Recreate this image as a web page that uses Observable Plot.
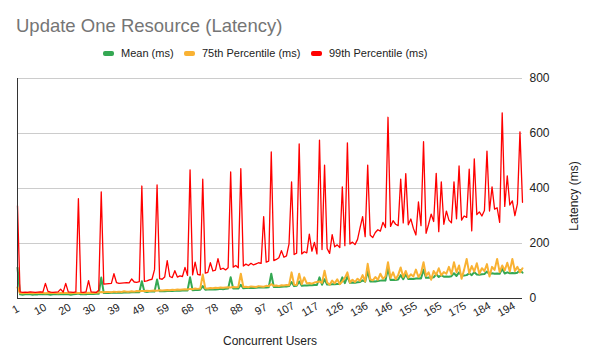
<!DOCTYPE html>
<html><head><meta charset="utf-8">
<script src="https://cdn.jsdelivr.net/npm/d3@7"></script>
<script src="https://cdn.jsdelivr.net/npm/@observablehq/plot@0.6"></script>
<style>
body{margin:0;background:#fff;font-family:Arial,"Liberation Sans",sans-serif;}
#wrap{position:relative;width:592px;height:364px;overflow:hidden;}
#chart{position:absolute;left:0;top:0;}
#title{position:absolute;left:16px;top:15px;font-size:18.5px;color:#757575;white-space:nowrap;}
.lg{position:absolute;top:46px;font-size:11px;color:#222;white-space:nowrap;line-height:14px;}
.sw{position:absolute;top:51px;width:11px;height:5px;border-radius:2px;}
#ylab{position:absolute;left:574px;top:196px;transform:translate(-50%,-50%) rotate(-90deg);font-size:12px;color:#222;white-space:nowrap;}
#xlab{position:absolute;left:270px;top:334px;transform:translateX(-50%);font-size:12px;color:#222;white-space:nowrap;}
</style></head>
<body><div id="wrap">
<div id="chart"></div>
<div id="title">Update One Resource (Latency)</div>
<div class="sw" style="left:103px;background:#34a853"></div><div class="lg" style="left:121px">Mean (ms)</div>
<div class="sw" style="left:184px;background:#f9b233"></div><div class="lg" style="left:202px">75th Percentile (ms)</div>
<div class="sw" style="left:311px;background:#ff0000"></div><div class="lg" style="left:329px">99th Percentile (ms)</div>
<div id="ylab">Latency (ms)</div>
<div id="xlab">Concurrent Users</div>
</div>
<script>
const tickLabels = ["1","10","20","30","39","49","59","68","78","88","97","107","117","126","136","146","155","165","175","184","194"];
const yTicks = [0, 200, 400, 600, 800];

// one value per concurrent-user level (1..200)
const meanMs = [
112,15,14,15,16,15,14,15,15,16,
15,16,15,14,15,16,15,16,15,16,
15,14,15,16,18,15,16,15,17,16,
16,17,17,76,20,21,20,21,22,21,
22,21,22,23,22,23,23,24,23,63,
25,24,25,26,25,69,26,27,26,27,
28,27,28,29,28,29,30,29,77,30,
31,31,32,45,32,33,33,34,33,34,
35,34,35,36,77,36,37,36,50,37,
38,38,39,38,39,40,40,41,40,41,
90,42,43,42,43,44,44,45,60,45,
46,62,46,47,47,48,48,49,49,77,
50,70,51,51,52,52,53,53,77,56,
80,57,58,57,59,60,66,61,100,62,
63,62,64,65,66,65,110,67,68,67,
69,85,70,88,71,72,71,73,74,73,
105,75,76,75,77,88,78,85,79,80,
79,81,92,82,95,83,84,85,92,85,
96,87,86,88,89,98,88,92,90,91,
90,108,91,95,92,93,92,94,104,94];

const p75Ms = [
40,20,19,20,21,20,19,20,20,21,
20,19,20,21,20,20,19,20,21,20,
20,19,20,21,20,20,19,20,21,20,
20,21,22,24,23,24,24,23,25,24,
25,24,26,25,25,26,25,27,26,27,
27,28,27,28,29,28,30,29,30,31,
30,32,31,33,32,33,34,33,35,34,
36,35,36,87,37,36,38,37,39,38,
40,39,40,41,40,42,41,42,90,42,
43,41,44,43,42,45,44,43,46,45,
52,46,47,45,48,47,49,48,95,50,
49,90,52,77,55,56,54,58,60,62,
57,101,58,50,65,55,70,52,62,75,
95,58,68,60,72,64,85,62,126,70,
66,78,68,90,72,80,132,75,95,70,
85,113,78,100,76,88,80,105,78,92,
132,82,95,68,100,86,110,84,96,90,
115,88,132,95,120,72,105,144,92,118,
98,128,90,110,100,125,80,115,104,144,
96,120,102,130,98,144,100,115,95,110];

const p99Ms = [
337,24,22,23,22,24,23,22,23,24,
23,55,26,23,22,23,24,34,23,55,
24,23,22,24,363,23,22,24,65,24,
23,22,30,388,52,53,54,55,90,58,
55,56,57,58,57,71,60,59,61,409,
62,64,68,70,105,413,72,70,78,138,
80,76,101,78,82,80,113,84,468,86,
132,88,85,434,92,95,130,100,103,145,
106,110,104,112,460,114,120,112,472,118,
125,120,128,122,126,130,128,298,132,136,
533,138,142,148,174,150,155,199,424,160,
165,562,162,170,166,234,172,204,162,576,
178,485,182,164,232,188,195,185,406,192,
566,198,205,196,215,258,298,225,485,230,
222,240,250,245,277,258,659,262,283,270,
265,434,275,454,268,289,255,231,351,265,
570,237,270,307,280,455,243,424,270,318,
285,275,424,290,482,285,300,295,470,246,
508,305,315,300,320,536,318,406,325,330,
277,675,335,446,340,355,301,345,606,350];

const users = d3.range(1, 201);
const rows = users.map((u, i) => ({u, mean: meanMs[i], p75: p75Ms[i], p99: p99Ms[i]}));
// each label sits every 29 measurement rows (3 rows per user level)
const tickPos = tickLabels.map((_, i) => 1 + (i * 29) / 3);

const chart = Plot.plot({
  width: 592, height: 364,
  marginTop: 78, marginBottom: 66, marginLeft: 17, marginRight: 70,
  x: {domain: [1, 200], axis: null},
  y: {domain: [0, 800], axis: null},
  style: {fontFamily: "Arial, 'Liberation Sans', sans-serif", background: "transparent", color: "#222"},
  marks: [
    Plot.gridY([200, 400, 600, 800], {stroke: "#cccccc", strokeOpacity: 1}),
    Plot.line(rows, {x: "u", y: "mean", stroke: "#34a853", strokeWidth: 2}),
    Plot.line(rows, {x: "u", y: "p75", stroke: "#f9b233", strokeWidth: 2}),
    Plot.line(rows, {x: "u", y: "p99", stroke: "#ff0000", strokeWidth: 1.3}),
    Plot.ruleY([0], {stroke: "#333"}),
    Plot.ruleX([1], {stroke: "#333"}),
    Plot.axisY(yTicks, {anchor: "right", tickSize: 0, tickPadding: 7, fontSize: 12, label: null, fill: "#222"}),
    Plot.text(tickPos, {x: d => d, text: (d, i) => tickLabels[i], frameAnchor: "bottom", dy: 14, rotate: -30, fontSize: 11, fill: "#222"})
  ]
});
document.getElementById("chart").appendChild(chart);
</script>
</body></html>
